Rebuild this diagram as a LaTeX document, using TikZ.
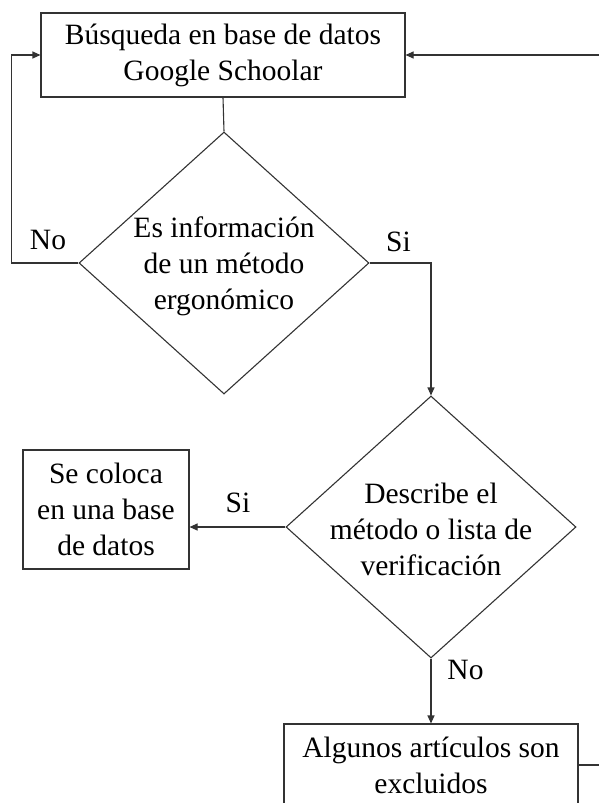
\documentclass[tikz,border=0pt]{standalone}
\usepackage{fontspec}
\setmainfont{Liberation Serif}
\usetikzlibrary{shapes.geometric,arrows.meta}
\begin{document}
\begin{tikzpicture}[x=1pt,y=-1pt,
  every node/.style={font=\fontsize{29.5}{36}\selectfont},
  box/.style={draw=black!80, line width=1.1pt, inner sep=0pt, align=center},
  dec/.style={draw=black!80, line width=1.1pt, diamond, inner sep=0pt, minimum width=290pt, minimum height=262pt},
  txt/.style={inner sep=0pt, align=center},
  con/.style={draw=black!80, line width=1.1pt},
  arr/.style={con, -{Triangle[length=8pt,width=7pt]}},
  lbl/.style={inner sep=0pt}]
\useasboundingbox (0,0) rectangle (599,803);
\clip (0,0) rectangle (599,803);

\node[box, minimum width=364pt, minimum height=84pt] (t) at (223,55) {Búsqueda en base de datos\\Google Schoolar};
\node[dec] (d1) at (224,263) {};
\node[txt] (d1t) at (224,266) {Es información\\de un método\\ergonómico};
\node[box, minimum width=166pt, minimum height=119pt] (s) at (106,509.5) {Se coloca\\en una base\\de datos};
\node[dec] (d2) at (431,527) {};
\node[txt] (d2t) at (431,529) {Describe el\\método o lista de\\verificación};
\node[box, minimum width=294pt, minimum height=82pt] (a) at (431,765) {Algunos artículos son\\excluidos};

\coordinate (rin) at (599,55);
\coordinate (lp) at (11.5,263);
\coordinate (rout) at (599,765);

\draw[arr] (rin) -- (t.east);
\draw[con] (t.south) -- (d1.north);
\draw[arr] (d1.west) -- (lp) |- (t.west);
\draw[arr] (d1.east) -| (d2.north);
\draw[arr] (d2.west) -- (d2.west -| s.east);
\draw[arr] (d2.south) -- (a.north);
\draw[con] (a.east) -- (rout);

\node[lbl] (l1) at (48,240) {No};
\node[lbl] (l2) at (398.5,242) {Si};
\node[lbl] (l3) at (238,503) {Si};
\node[lbl] (l4) at (465.5,670) {No};
\end{tikzpicture}
\end{document}
